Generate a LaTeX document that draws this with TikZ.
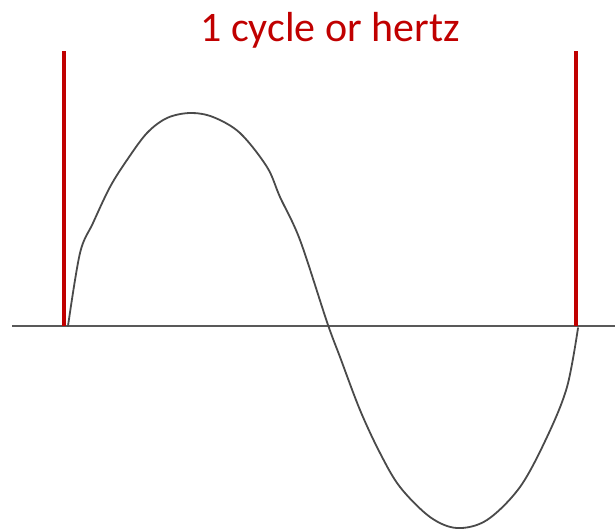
\documentclass[tikz,border=0pt]{standalone}
\usepackage{fontspec}
\setmainfont{Carlito}
\definecolor{cred}{HTML}{C00000}
\definecolor{axisgray}{HTML}{595959}
\definecolor{wavegray}{HTML}{4A4A4A}
\begin{document}
\begin{tikzpicture}[x=1pt,y=-1pt,
  redbar/.style={draw=cred,line width=4.5pt},
  axisline/.style={draw=axisgray,line width=2.8pt},
  wave/.style={draw=wavegray,line width=1.8pt,line join=round,line cap=round}]
\useasboundingbox (0,0) rectangle (615,531);
% axis
\coordinate (axL) at (12,326);
\coordinate (axR) at (615,326);
\draw[axisline] (axL) -- (axR);
% red markers
\coordinate (r1t) at (64,51);
\coordinate (r1b) at (64,326);
\coordinate (r2t) at (576,51);
\coordinate (r2b) at (576,326);
\draw[redbar] (r1t) -- (r1b);
\draw[redbar] (r2t) -- (r2b);
% title
\node[text=cred,font=\fontsize{42}{50}\selectfont,anchor=base] (title) at (330,41) {1 cycle or hertz};
% wave traced through points
\draw[wave] plot[smooth,tension=0.55] coordinates {
  (68,326) (80,253) (93,223) (110,187) (127,160) (147,133) (167,118)
  (190,113) (213,117) (240,133) (267,167) (280,197) (300,240) (327,322)
  (340,357) (360,410) (380,453) (400,487) (430,517) (457,528)
  (487,520) (520,487) (547,437) (567,387) (578,328)};
\end{tikzpicture}
\end{document}
